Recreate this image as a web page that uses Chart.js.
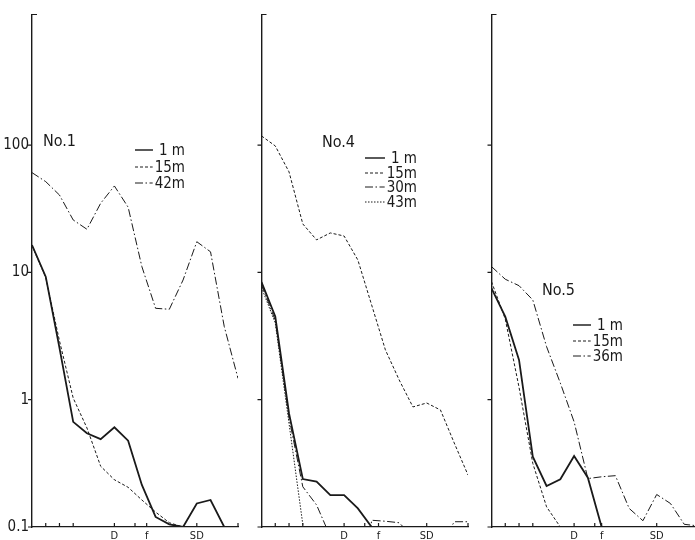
<!DOCTYPE html>
<html><head><meta charset="utf-8">
<script src="https://cdn.jsdelivr.net/npm/chart.js@4.4.0/dist/chart.umd.min.js"></script>
<style>
html,body{margin:0;padding:0;background:#fff;width:695px;height:540px;overflow:hidden;position:relative;
 font-family:"Liberation Sans Narrow","DejaVu Sans Condensed","Liberation Sans",sans-serif;color:#1a1a1a}
canvas{position:absolute;top:0}
.t{position:absolute;font-size:16px;line-height:16px;white-space:nowrap}
.leg{position:absolute;display:flex;align-items:center;height:14px;font-size:15px;line-height:14px;white-space:nowrap}
.leg svg{flex:1;height:4px}
.leg span{margin-left:2px}
</style></head><body>
<canvas id="c1"></canvas><canvas id="c2"></canvas><canvas id="c3"></canvas>
<script>
// ---- data ----
const freqIndex = [0,1,2,3,4,5,6,7,8,9,10,11,12,13,14,15];
const yTickValues = [0.1, 1, 10, 100];
const yTickLabels = ['0.1', '1', '10', '100'];

const xTicks1 = [1, 2, 3, 6, 7.5, 8.35, 12, 15];
const xTicks2 = [1, 2, 3, 6, 7.5, 8.5, 12, 15];
const xTicks3 = [1, 2, 3, 6, 7.5, 8.0, 12, 15];
const xTickLabels = ['', '', '', 'D', '', 'f', 'SD', ''];

// Station No.1
const no1_1m  = [16.4, 9.25, 2.55, 0.67, 0.545, 0.49, 0.607, 0.476, 0.214, 0.12, 0.105, 0.1, 0.153, 0.163, 0.1, null];
const no1_15m = [16.2, 9.1, 2.9, 1.03, 0.6, 0.3, 0.235, 0.205, 0.163, 0.131, 0.108, 0.1, null, null, null, null];
const no1_42m = [60.7, 51.6, 40.5, 25.8, 21.8, 34.9, 47.7, 32.5, 11.1, 5.22, 5.13, 8.71, 17.4, 14.5, 3.75, 1.47];

// Station No.4
const no4_1m  = [8.4, 4.5, 0.78, 0.238, 0.227, 0.178, 0.178, 0.14, 0.1, 0.1, null, null, null, null, null, null];
const no4_15m = [117.9, 98.4, 61.5, 24.0, 18.0, 20.4, 19.3, 12.5, 5.55, 2.46, 1.43, 0.877, 0.942, 0.83, 0.457, 0.256];
const no4_30m = [8.0, 4.2, 0.72, 0.207, 0.149, 0.084, 0.05, 0.01, 0.113, 0.111, 0.108, 0.084, 0.05, 0.07, 0.11, 0.11];
const no4_43m = [7.6, 4.0, 0.65, 0.105, 0.03, null, null, null, null, null, null, null, null, null, null, null];

// Station No.5
const no5_1m  = [7.5, 4.49, 2.05, 0.357, 0.21, 0.237, 0.361, 0.244, 0.1, null, null, null, null, null, null, null];
const no5_15m = [8.45, 4.3, 1.25, 0.316, 0.144, 0.1, null, null, null, null, null, null, null, null, null, null];
const no5_36m = [11.1, 8.83, 7.86, 6.07, 2.61, 1.35, 0.67, 0.24, 0.248, 0.253, 0.14, 0.112, 0.18, 0.153, 0.105, 0.102];

// ---- styles ----
const INK = '#1a1a1a';
const FONT = '"Liberation Sans Narrow","DejaVu Sans Condensed","Liberation Sans",sans-serif';
const STY = {
  solid:   {w: 1.8, dash: []},
  dashed:  {w: 1.0, dash: [3, 2]},
  dashdot: {w: 1.0, dash: [8, 2.5, 1.5, 2.5]},
  dotted:  {w: 1.0, dash: [1.5, 1.5]}
};

const panels = [
  {id:'c1', left:0,   yWidth:32,  width:250, rightPad:12, showY:true, xticks:xTicks1,
   title:'No.1', titlePos:[43,133], legPos:[135,143,16.5], legW:50,
   series:[['1 m',no1_1m,'solid'],['15m',no1_15m,'dashed'],['42m',no1_42m,'dashdot']]},
  {id:'c2', left:254, yWidth:7.5, width:222, rightPad:8, showY:false, xticks:xTicks2,
   title:'No.4', titlePos:[322,134], legPos:[365,151,14.7], legW:52,
   series:[['1 m',no4_1m,'solid'],['15m',no4_15m,'dashed'],['30m',no4_30m,'dashdot'],['43m',no4_43m,'dotted']]},
  {id:'c3', left:484, yWidth:7.5, width:222, rightPad:8, showY:false, xticks:xTicks3,
   title:'No.5', titlePos:[542,282], legPos:[573,318,15.5], legW:50,
   series:[['1 m',no5_1m,'solid'],['15m',no5_15m,'dashed'],['36m',no5_36m,'dashdot']]}
];

const tickMarks = {
  id:'tickMarks',
  afterDraw(chart){
    const {ctx, chartArea:a, scales:{x, y}} = chart;
    ctx.save(); ctx.strokeStyle = INK; ctx.lineWidth = 1.2; ctx.beginPath();
    yTickValues.forEach(v => { const py = y.getPixelForValue(v); ctx.moveTo(a.left - 4, py); ctx.lineTo(a.left, py); });
    ctx.moveTo(a.left, a.top); ctx.lineTo(a.left + 5, a.top);
    x.ticks.forEach(t => { const px = x.getPixelForValue(t.value); ctx.moveTo(px, a.bottom); ctx.lineTo(px, a.bottom - 4); });
    ctx.stroke(); ctx.restore();
  }
};

panels.forEach(p => {
  const cv = document.getElementById(p.id);
  cv.width = p.width; cv.height = 540; cv.style.left = p.left + 'px';
  cv.style.width = p.width + 'px'; cv.style.height = '540px';
  new Chart(cv, {
    type: 'line',
    data: { datasets: p.series.map(([lab, vals, st]) => ({
      label: lab,
      data: vals.map((v, i) => ({x: freqIndex[i], y: v})),
      borderColor: INK, borderWidth: STY[st].w, borderDash: STY[st].dash,
      pointRadius: 0, tension: 0, fill: false, spanGaps: false
    }))},
    options: {
      responsive: false, animation: false, events: [],
      layout: {padding: {top: 14.5, right: p.rightPad, left: 0, bottom: 0}},
      plugins: {legend: {display: false}, tooltip: {enabled: false}},
      scales: {
        x: {type: 'linear', min: 0, max: 15,
            grid: {display: false, drawTicks: false},
            border: {display: true, color: INK, width: 1.3},
            afterBuildTicks: sc => { sc.ticks = p.xticks.map(v => ({value: v})); },
            afterFit: sc => { sc.height = 13; },
            ticks: {autoSkip: false, maxRotation: 0, padding: 3, color: INK,
                    font: {size: 11, family: FONT},
                    callback: (v, i) => xTickLabels[i]}},
        y: {type: 'logarithmic', min: 0.1, max: 1060,
            grid: {display: false, drawTicks: false},
            border: {display: true, color: INK, width: 1.4},
            afterBuildTicks: sc => { sc.ticks = yTickValues.map(v => ({value: v})); },
            afterFit: sc => { sc.width = p.yWidth; },
            ticks: {display: p.showY, padding: 3, color: INK, autoSkip: false,
                    font: {size: 15, family: FONT},
                    callback: (v, i) => yTickLabels[i]}}
      }
    },
    plugins: [tickMarks]
  });

  const t = document.createElement('div');
  t.className = 't'; t.textContent = p.title;
  t.style.left = p.titlePos[0] + 'px'; t.style.top = p.titlePos[1] + 'px';
  document.body.appendChild(t);

  p.series.forEach(([lab, vals, st], k) => {
    const row = document.createElement('div');
    row.className = 'leg';
    row.style.left = p.legPos[0] + 'px';
    row.style.top = (p.legPos[1] + k * p.legPos[2]) + 'px';
    row.style.width = p.legW + 'px';
    const dash = STY[st].dash.length ? STY[st].dash.join(' ') : 'none';
    row.innerHTML = '<svg preserveAspectRatio="none"><line x1="0" y1="2" x2="100%" y2="2" stroke="' + INK +
      '" stroke-width="' + Math.max(1, STY[st].w * 0.8) + '" stroke-dasharray="' + dash + '"/></svg>';
    const s = document.createElement('span');
    s.textContent = lab;
    if (lab === '1 m') s.style.marginLeft = '6px';
    row.appendChild(s);
    document.body.appendChild(row);
  });
});
</script>
</body></html>
